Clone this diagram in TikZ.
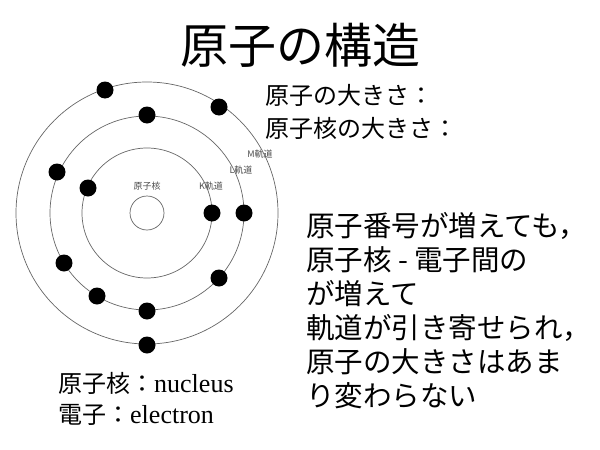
\documentclass[tikz,border=0pt]{standalone}
\usepackage{fontspec}
\setmainfont{Liberation Serif}
\newfontfamily\cjk{Noto Sans CJK JP}
\usetikzlibrary{positioning}
\tikzset{
  orbit/.style={draw=black!60, line width=0.7pt},
  electron/.style={circle, fill=black, minimum size=17pt, inner sep=0pt},
  small/.style={font=\cjk\fontsize{9}{10}\selectfont, text=black!70, inner sep=0pt},
  body/.style={font=\cjk\fontsize{24}{26}\selectfont, anchor=west, inner sep=0pt}
}
\begin{document}
\begin{tikzpicture}[x=1pt,y=-1pt]
  \useasboundingbox (0,0) rectangle (600,450);
  \coordinate (c) at (147,213);
  % orbits
  \draw[orbit] (c) circle[radius=17];
  \draw[orbit] (c) circle[radius=65];
  \draw[orbit] (c) circle[radius=97];
  \draw[orbit] (c) circle[radius=131];
  % labels
  \node[small] (nuc) at (147,186) {原子核};
  \node[small] (k) at (211,186) {K軌道};
  \node[small] (l) at (241,170) {L軌道};
  \node[small] (m) at (260,154) {M軌道};
  % electrons
  \foreach \x/\y in {88/188, 212/213,
    147/115, 57/172, 244/213, 219/278, 147/311, 97/296, 64/263,
    105/90, 219/107, 147/345}
    \node[electron] at (\x,\y) {};
  % texts
  \node[font=\cjk\fontsize{48}{50}\selectfont] (title) at (300,45) {原子の構造};
  \node[body] (size) at (265,95) {原子の大きさ：};
  \node[body] (nsize) at (265,128) {原子核の大きさ：};
  \node[body, align=left, anchor=north west, font=\cjk\fontsize{28.5}{34}\selectfont] (expl) at (306,212)
    {原子番号が増えても，\\原子核 - 電子間の\\が増えて\\軌道が引き寄せられ，\\原子の大きさはあま\\り変わらない};
  \node[body] (en1) at (58,383) {原子核：{\rmfamily\fontsize{26}{28}\selectfont nucleus}};
  \node[body] (en2) at (58,415) {電子：{\rmfamily\fontsize{26}{28}\selectfont electron}};
\end{tikzpicture}
\end{document}
